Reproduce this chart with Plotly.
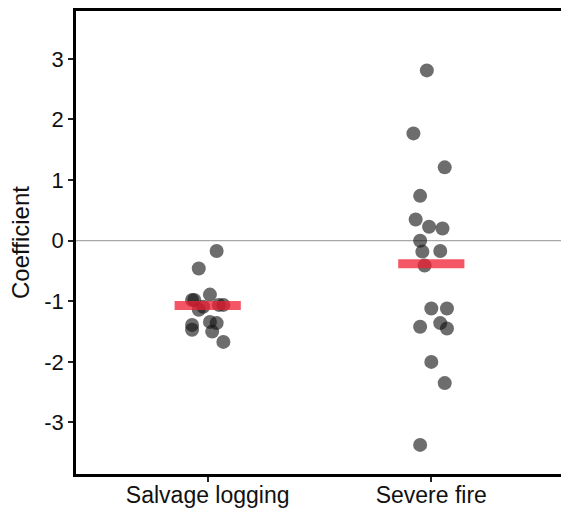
import plotly.graph_objects as go

categories = ["Salvage logging", "Severe fire"]
y_ticks = [-3, -2, -1, 0, 1, 2, 3]
y_ticktext = ["-3", "-2", "-1", "0", "1", "2", "3"]

# point values (coefficients) and horizontal jitter
salvage_vals = [-0.17, -0.46, -0.89, -0.98, -1.06, -1.06, -1.09, -1.14, -0.98,
                -1.39, -1.47, -1.34, -1.36, -1.50, -1.67]
salvage_jit = [0.04, -0.04, 0.01, -0.06, 0.05, 0.07, -0.02, -0.04, -0.07,
               -0.07, -0.07, 0.01, 0.04, 0.02, 0.07]
fire_vals = [2.81, 1.77, 1.21, 0.74, 0.35, 0.23, 0.20, 0.0, -0.18, -0.17, -0.41,
             -1.12, -1.12, -1.42, -1.36, -1.45, -2.0, -2.35, -3.37]
fire_jit = [-0.02, -0.08, 0.06, -0.05, -0.07, -0.01, 0.05, -0.05, -0.04, 0.04, -0.03,
            0.0, 0.07, -0.05, 0.04, 0.07, 0.0, 0.06, -0.05]
estimates = [-1.07, -0.38]

fig = go.Figure()

groups = [(salvage_vals, salvage_jit), (fire_vals, fire_jit)]
for i, (vals, jit) in enumerate(groups):
    pos = i + 1
    fig.add_trace(go.Scatter(
        x=[pos + j for j in jit], y=vals, mode="markers",
        marker=dict(size=14, color="rgba(20,20,20,0.62)", line=dict(width=0)),
        showlegend=False, hoverinfo="y"))

half = 0.148
for i, est in enumerate(estimates):
    pos = i + 1
    fig.add_trace(go.Scatter(
        x=[pos - half, pos + half], y=[est, est], mode="lines",
        line=dict(color="rgba(240,30,50,0.75)", width=9),
        showlegend=False, hoverinfo="y"))

fig.add_hline(y=0, line=dict(color="#a8a8a8", width=1.2), layer="below")

fig.update_layout(
    width=561, height=513,
    margin=dict(l=76, r=0, t=11, b=39),
    paper_bgcolor="white", plot_bgcolor="white",
    font=dict(family="Liberation Sans, Arial, sans-serif", size=22, color="#111"),
)
fig.update_xaxes(
    range=[0.411, 2.58], tickvals=[1, 2], ticktext=categories, automargin=False,
    showgrid=False, zeroline=False, showline=True, linecolor="black",
    linewidth=2.5, mirror=True, ticks="outside", ticklen=5, tickwidth=1.5,
    tickcolor="#222", tickfont=dict(size=23, color="#111"), ticklabelstandoff=-6)
fig.update_yaxes(
    range=[-3.85, 3.79], tickvals=y_ticks, ticktext=y_ticktext, automargin=False,
    showgrid=False, zeroline=False, showline=True, linecolor="black",
    linewidth=2.5, ticks="outside", ticklen=5, tickwidth=1.5, tickcolor="#222",
    tickfont=dict(size=22, color="#111"),
    title=dict(text="Coefficient", font=dict(size=24, color="#111"), standoff=8))

fig.write_html("out.html", config={"displayModeBar": False},
               post_script="document.body.style.margin='0';")
